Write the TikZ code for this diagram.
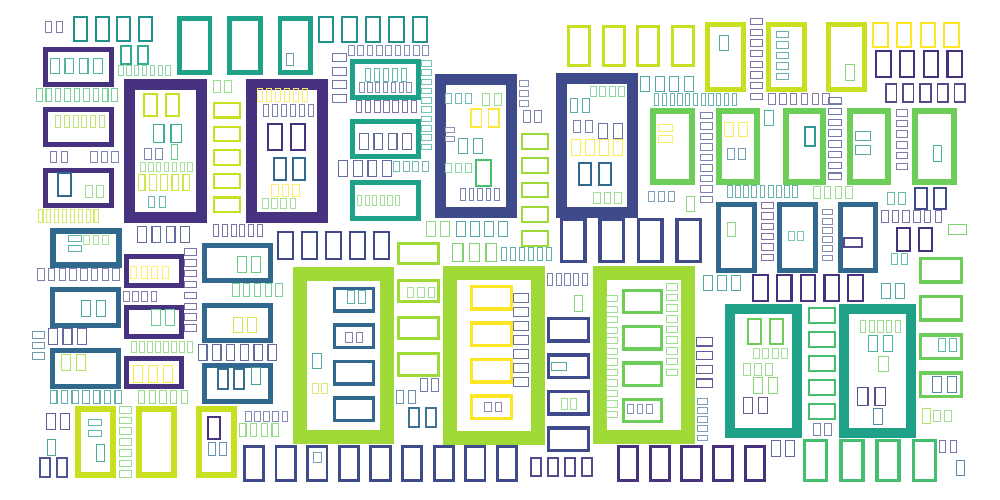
\documentclass[tikz,border=0pt]{standalone}
\definecolor{vP}{HTML}{46327E}
\definecolor{vB}{HTML}{3E4A89}
\definecolor{vBl}{HTML}{31688E}
\definecolor{vT}{HTML}{21918C}
\definecolor{vTG}{HTML}{1FA187}
\definecolor{vG}{HTML}{44BF70}
\definecolor{vLG}{HTML}{6CCE59}
\definecolor{vYG}{HTML}{A0DA39}
\definecolor{vL}{HTML}{C8E020}
\definecolor{vY}{HTML}{FDE725}
% horizontal word of n empty glyph boxes: x1 y1 x2 y2 n colour
\newcommand\hwd[6]{%
  \pgfmathsetmacro\tfA{(#3-#1)/(#5-0.3)}%
  \pgfmathsetmacro\tfW{0.7*\tfA}%
  \pgfmathsetmacro\tfL{max((#4-#2)/13,0.9)}%
  \pgfmathtruncatemacro\tfP{min(100,30+(#4-#2)*3)}%
  \foreach \k in {1,...,#5}{%
    \pgfmathsetmacro\tfX{#1+(\k-1)*\tfA}%
    \draw[draw=#6!\tfP,line width=\tfL*0.75pt] (\tfX+\tfL/2,#2+\tfL/2) rectangle (\tfX+\tfW-\tfL/2,#4-\tfL/2);
  }}
% vertical (rotated) word of n glyph boxes
\newcommand\vwd[6]{%
  \pgfmathsetmacro\tfA{(#4-#2)/(#5-0.3)}%
  \pgfmathsetmacro\tfW{0.7*\tfA}%
  \pgfmathsetmacro\tfL{max((#3-#1)/13,0.9)}%
  \pgfmathtruncatemacro\tfP{min(100,30+(#3-#1)*3)}%
  \foreach \k in {1,...,#5}{%
    \pgfmathsetmacro\tfY{#2+(\k-1)*\tfA}%
    \draw[draw=#6!\tfP,line width=\tfL*0.75pt] (#1+\tfL/2,\tfY+\tfL/2) rectangle (#3-\tfL/2,\tfY+\tfW-\tfL/2);
  }}
\begin{document}
\begin{tikzpicture}[x=0.75pt,y=-0.75pt]
\fill[white] (0,0) rectangle (1000,500);
\useasboundingbox (0,0) rectangle (1000,500);
% top-left
\hwd{45}{21}{63}{33}{2}{vP}
\hwd{73}{16}{153}{42}{4}{vT}
\hwd{177}{16}{313}{75}{3}{vTG}
\hwd{318}{16}{428}{43}{5}{vT}
\hwd{286}{53}{294}{66}{1}{vBl}
\vwd{43}{47}{114}{87}{1}{vP}
\hwd{50}{58}{103}{74}{4}{vTG}
\hwd{120}{45}{149}{65}{2}{vTG}
\hwd{118}{65}{171}{76}{7}{vG}
\hwd{36}{88}{118}{102}{9}{vG}
\hwd{124}{79}{207}{223}{1}{vP}
\hwd{246}{79}{328}{223}{1}{vP}
\vwd{43}{107}{114}{147}{1}{vP}
\hwd{55}{115}{105}{128}{6}{vYG}
\vwd{43}{168}{114}{208}{1}{vP}
\hwd{57}{172}{72}{197}{1}{vBl}
\hwd{85}{185}{104}{198}{2}{vLG}
\hwd{50}{151}{68}{163}{2}{vP}
\hwd{90}{151}{119}{163}{3}{vB}
\hwd{38}{209}{99}{223}{8}{vL}
\vwd{50}{228}{122}{268}{1}{vBl}
\vwd{68}{235}{82}{252}{2}{vT}
\hwd{83}{235}{109}{245}{3}{vLG}
% inside left big purple frame
\hwd{143}{93}{180}{117}{2}{vL}
\hwd{153}{124}{182}{143}{2}{vTG}
\hwd{144}{148}{163}{160}{2}{vB}
\hwd{171}{144}{178}{160}{1}{vG}
\hwd{140}{162}{193}{172}{7}{vLG}
\hwd{138}{174}{190}{191}{5}{vL}
\hwd{148}{196}{166}{208}{2}{vT}
\hwd{213}{80}{232}{93}{2}{vLG}
\vwd{213}{102}{241}{213}{5}{vL}
% inside second purple frame
\hwd{257}{88}{308}{102}{6}{vY}
\hwd{263}{104}{314}{117}{6}{vB}
\hwd{267}{123}{306}{151}{2}{vP}
\hwd{273}{157}{306}{181}{2}{vBl}
\hwd{271}{184}{300}{197}{3}{vY}
\hwd{262}{198}{296}{209}{4}{vLG}
\hwd{137}{226}{190}{243}{4}{vB}
\hwd{213}{224}{263}{237}{6}{vP}
\vwd{202}{243}{273}{283}{1}{vBl}
\hwd{237}{256}{261}{273}{2}{vG}
\hwd{277}{231}{390}{260}{5}{vB}
% upper middle
\vwd{332}{53}{347}{103}{4}{vB}
\hwd{348}{45}{429}{56}{9}{vB}
\vwd{350}{59}{421}{100}{1}{vTG}
\hwd{365}{68}{407}{82}{5}{vTG}
\hwd{359}{82}{412}{93}{7}{vB}
\vwd{421}{60}{432}{150}{10}{vTG}
\hwd{356}{100}{417}{113}{7}{vP}
\vwd{350}{119}{421}{159}{1}{vTG}
\hwd{359}{133}{412}{150}{4}{vB}
\hwd{338}{160}{392}{177}{4}{vB}
\hwd{393}{161}{429}{172}{4}{vT}
\vwd{350}{180}{421}{221}{1}{vTG}
\hwd{357}{195}{400}{206}{6}{vLG}
\hwd{435}{74}{517}{218}{1}{vB}
\hwd{445}{93}{472}{104}{3}{vT}
\hwd{482}{93}{502}{106}{2}{vLG}
\hwd{470}{108}{500}{128}{2}{vY}
\vwd{445}{127}{455}{142}{2}{vB}
\hwd{458}{138}{483}{154}{2}{vT}
\hwd{445}{163}{472}{173}{3}{vG}
\hwd{475}{159}{492}{187}{1}{vG}
\hwd{460}{188}{500}{201}{5}{vB}
\vwd{519}{80}{529}{107}{3}{vB}
\hwd{523}{110}{542}{123}{2}{vB}
\vwd{521}{133}{549}{247}{5}{vYG}
\hwd{556}{73}{638}{218}{1}{vB}
\hwd{590}{86}{625}{97}{4}{vG}
\hwd{570}{98}{590}{113}{2}{vT}
\hwd{573}{120}{593}{133}{2}{vB}
\hwd{598}{123}{623}{139}{2}{vB}
\hwd{571}{139}{623}{156}{4}{vY}
\hwd{578}{162}{612}{186}{2}{vBl}
\hwd{593}{192}{622}{204}{3}{vLG}
\hwd{567}{25}{695}{67}{4}{vL}
\hwd{640}{76}{694}{92}{4}{vT}
\hwd{648}{191}{675}{202}{3}{vBl}
\hwd{650}{108}{695}{185}{1}{vLG}
\vwd{658}{124}{673}{143}{2}{vY}
\hwd{426}{221}{450}{237}{2}{vLG}
\hwd{456}{221}{508}{237}{4}{vT}
\vwd{397}{242}{440}{265}{1}{vYG}
\hwd{452}{243}{497}{262}{3}{vLG}
\hwd{501}{247}{552}{261}{6}{vT}
\hwd{560}{218}{702}{263}{4}{vB}
% upper right
\hwd{705}{22}{746}{92}{1}{vL}
\hwd{719}{35}{729}{51}{1}{vT}
\vwd{750}{18}{763}{100}{8}{vP}
\hwd{766}{22}{807}{92}{1}{vL}
\vwd{776}{31}{789}{80}{5}{vT}
\hwd{826}{22}{867}{92}{1}{vL}
\hwd{845}{64}{855}{81}{1}{vLG}
\hwd{872}{22}{960}{48}{4}{vY}
\hwd{875}{50}{963}{78}{4}{vP}
\hwd{885}{83}{966}{103}{5}{vP}
\hwd{654}{93}{737}{106}{11}{vT}
\hwd{768}{93}{830}{105}{6}{vP}
\vwd{828}{97}{842}{180}{8}{vB}
\vwd{700}{112}{713}{203}{9}{vB}
\hwd{716}{108}{760}{185}{1}{vLG}
\hwd{724}{122}{748}{137}{2}{vY}
\hwd{727}{148}{746}{160}{2}{vBl}
\hwd{764}{110}{774}{126}{1}{vTG}
\hwd{783}{108}{826}{185}{1}{vLG}
\hwd{804}{126}{816}{147}{1}{vT}
\hwd{847}{108}{891}{185}{1}{vLG}
\vwd{855}{131}{871}{155}{2}{vT}
\vwd{896}{109}{908}{170}{6}{vP}
\hwd{912}{108}{957}{185}{1}{vLG}
\hwd{933}{145}{942}{162}{1}{vTG}
\hwd{686}{196}{695}{212}{1}{vLG}
\hwd{727}{185}{798}{198}{9}{vT}
\hwd{813}{186}{853}{199}{4}{vLG}
\hwd{887}{192}{906}{205}{2}{vTG}
\hwd{914}{187}{947}{210}{2}{vB}
\hwd{881}{210}{942}{223}{6}{vP}
\vwd{948}{224}{967}{235}{1}{vLG}
\hwd{716}{202}{757}{273}{1}{vBl}
\hwd{727}{222}{736}{237}{1}{vLG}
\vwd{761}{202}{774}{261}{6}{vP}
\hwd{777}{202}{818}{273}{1}{vBl}
\hwd{788}{231}{804}{241}{2}{vTG}
\vwd{822}{209}{833}{261}{6}{vB}
\hwd{838}{202}{878}{273}{1}{vBl}
\vwd{843}{237}{863}{248}{1}{vP}
\hwd{896}{227}{933}{252}{2}{vP}
\hwd{891}{253}{908}{265}{2}{vTG}
% lower left
\hwd{37}{268}{120}{281}{8}{vB}
\vwd{124}{254}{184}{288}{1}{vP}
\hwd{130}{266}{169}{279}{4}{vY}
\vwd{184}{248}{197}{332}{8}{vP}
\hwd{123}{291}{157}{302}{4}{vP}
\vwd{50}{287}{121}{328}{1}{vBl}
\hwd{81}{300}{106}{317}{2}{vT}
\vwd{124}{305}{184}{339}{1}{vP}
\hwd{151}{309}{175}{326}{2}{vG}
\vwd{32}{331}{45}{360}{3}{vBl}
\hwd{48}{328}{87}{345}{3}{vB}
\hwd{131}{341}{193}{353}{8}{vLG}
\vwd{50}{348}{121}{389}{1}{vBl}
\hwd{61}{354}{86}{371}{2}{vYG}
\vwd{124}{356}{184}{389}{1}{vP}
\hwd{133}{365}{173}{383}{3}{vY}
\hwd{50}{390}{122}{404}{7}{vT}
\hwd{138}{390}{188}{404}{5}{vLG}
\vwd{202}{303}{273}{343}{1}{vBl}
\hwd{233}{317}{257}{333}{2}{vL}
\hwd{198}{344}{277}{361}{6}{vB}
\hwd{232}{283}{283}{297}{5}{vG}
\vwd{202}{363}{273}{404}{1}{vBl}
\hwd{217}{368}{245}{390}{2}{vBl}
\hwd{251}{367}{261}{385}{1}{vT}
\hwd{46}{413}{70}{430}{2}{vP}
\hwd{47}{439}{56}{456}{1}{vT}
\hwd{39}{457}{68}{478}{2}{vB}
\hwd{75}{406}{116}{478}{1}{vL}
\vwd{88}{419}{102}{437}{2}{vTG}
\hwd{96}{444}{105}{462}{1}{vTG}
\vwd{119}{406}{132}{478}{7}{vLG}
\hwd{136}{406}{177}{478}{1}{vL}
\hwd{196}{406}{237}{478}{1}{vL}
\hwd{207}{416}{221}{440}{1}{vP}
\hwd{208}{442}{227}{456}{2}{vBl}
\hwd{245}{411}{288}{422}{5}{vB}
\hwd{239}{423}{279}{437}{4}{vLG}
\hwd{243}{445}{518}{482}{9}{vB}
\hwd{313}{452}{322}{463}{1}{vBl}
\hwd{293}{267}{394}{444}{1}{vYG}
\vwd{333}{287}{375}{422}{4}{vBl}
\hwd{347}{290}{366}{304}{2}{vT}
\hwd{345}{332}{363}{343}{2}{vP}
\hwd{312}{353}{322}{369}{1}{vT}
\hwd{312}{383}{328}{394}{2}{vL}
% lower middle
\vwd{397}{279}{440}{303}{1}{vYG}
\hwd{407}{287}{435}{298}{3}{vLG}
\vwd{397}{316}{440}{340}{1}{vYG}
\vwd{397}{352}{440}{377}{1}{vYG}
\hwd{420}{378}{439}{392}{2}{vB}
\hwd{396}{390}{416}{404}{2}{vBl}
\hwd{408}{407}{437}{428}{2}{vBl}
\hwd{443}{266}{545}{445}{1}{vYG}
\vwd{470}{285}{513}{420}{4}{vY}
\hwd{484}{402}{502}{412}{2}{vP}
\vwd{513}{293}{529}{387}{7}{vB}
\hwd{547}{273}{588}{286}{5}{vB}
\hwd{574}{295}{583}{312}{1}{vLG}
\vwd{547}{317}{590}{452}{4}{vB}
\vwd{551}{362}{567}{371}{1}{vT}
\hwd{561}{398}{577}{410}{2}{vLG}
\hwd{593}{266}{695}{444}{1}{vYG}
\vwd{606}{295}{618}{418}{12}{vLG}
\vwd{622}{289}{663}{423}{4}{vLG}
\hwd{627}{404}{653}{414}{3}{vB}
\vwd{666}{283}{678}{376}{9}{vLG}
\hwd{530}{457}{593}{477}{4}{vP}
\hwd{617}{445}{766}{482}{5}{vP}
% lower right
\hwd{703}{275}{741}{291}{3}{vT}
\hwd{752}{274}{864}{302}{5}{vP}
\hwd{881}{283}{905}{299}{2}{vT}
\vwd{919}{257}{963}{398}{4}{vLG}
\hwd{938}{338}{957}{352}{2}{vTG}
\hwd{932}{376}{957}{393}{2}{vBl}
\hwd{725}{304}{802}{438}{1}{vTG}
\hwd{747}{318}{784}{345}{2}{vLG}
\hwd{753}{348}{788}{359}{4}{vLG}
\hwd{743}{363}{773}{376}{3}{vLG}
\hwd{753}{377}{778}{394}{2}{vLG}
\hwd{743}{397}{768}{414}{2}{vP}
\vwd{808}{307}{836}{420}{5}{vG}
\hwd{813}{423}{832}{436}{2}{vB}
\hwd{839}{304}{916}{438}{1}{vTG}
\hwd{860}{320}{901}{333}{5}{vLG}
\hwd{868}{335}{893}{352}{2}{vTG}
\hwd{878}{356}{889}{372}{1}{vLG}
\hwd{857}{387}{886}{406}{2}{vP}
\hwd{873}{408}{883}{425}{1}{vBl}
\vwd{696}{337}{713}{388}{4}{vP}
\vwd{697}{398}{708}{441}{5}{vBl}
\hwd{922}{408}{931}{424}{1}{vYG}
\hwd{933}{410}{952}{422}{2}{vLG}
\hwd{771}{440}{795}{457}{2}{vB}
\hwd{803}{439}{937}{482}{4}{vG}
\hwd{939}{440}{957}{453}{2}{vP}
\hwd{956}{460}{965}{476}{1}{vBl}
\end{tikzpicture}
\end{document}
